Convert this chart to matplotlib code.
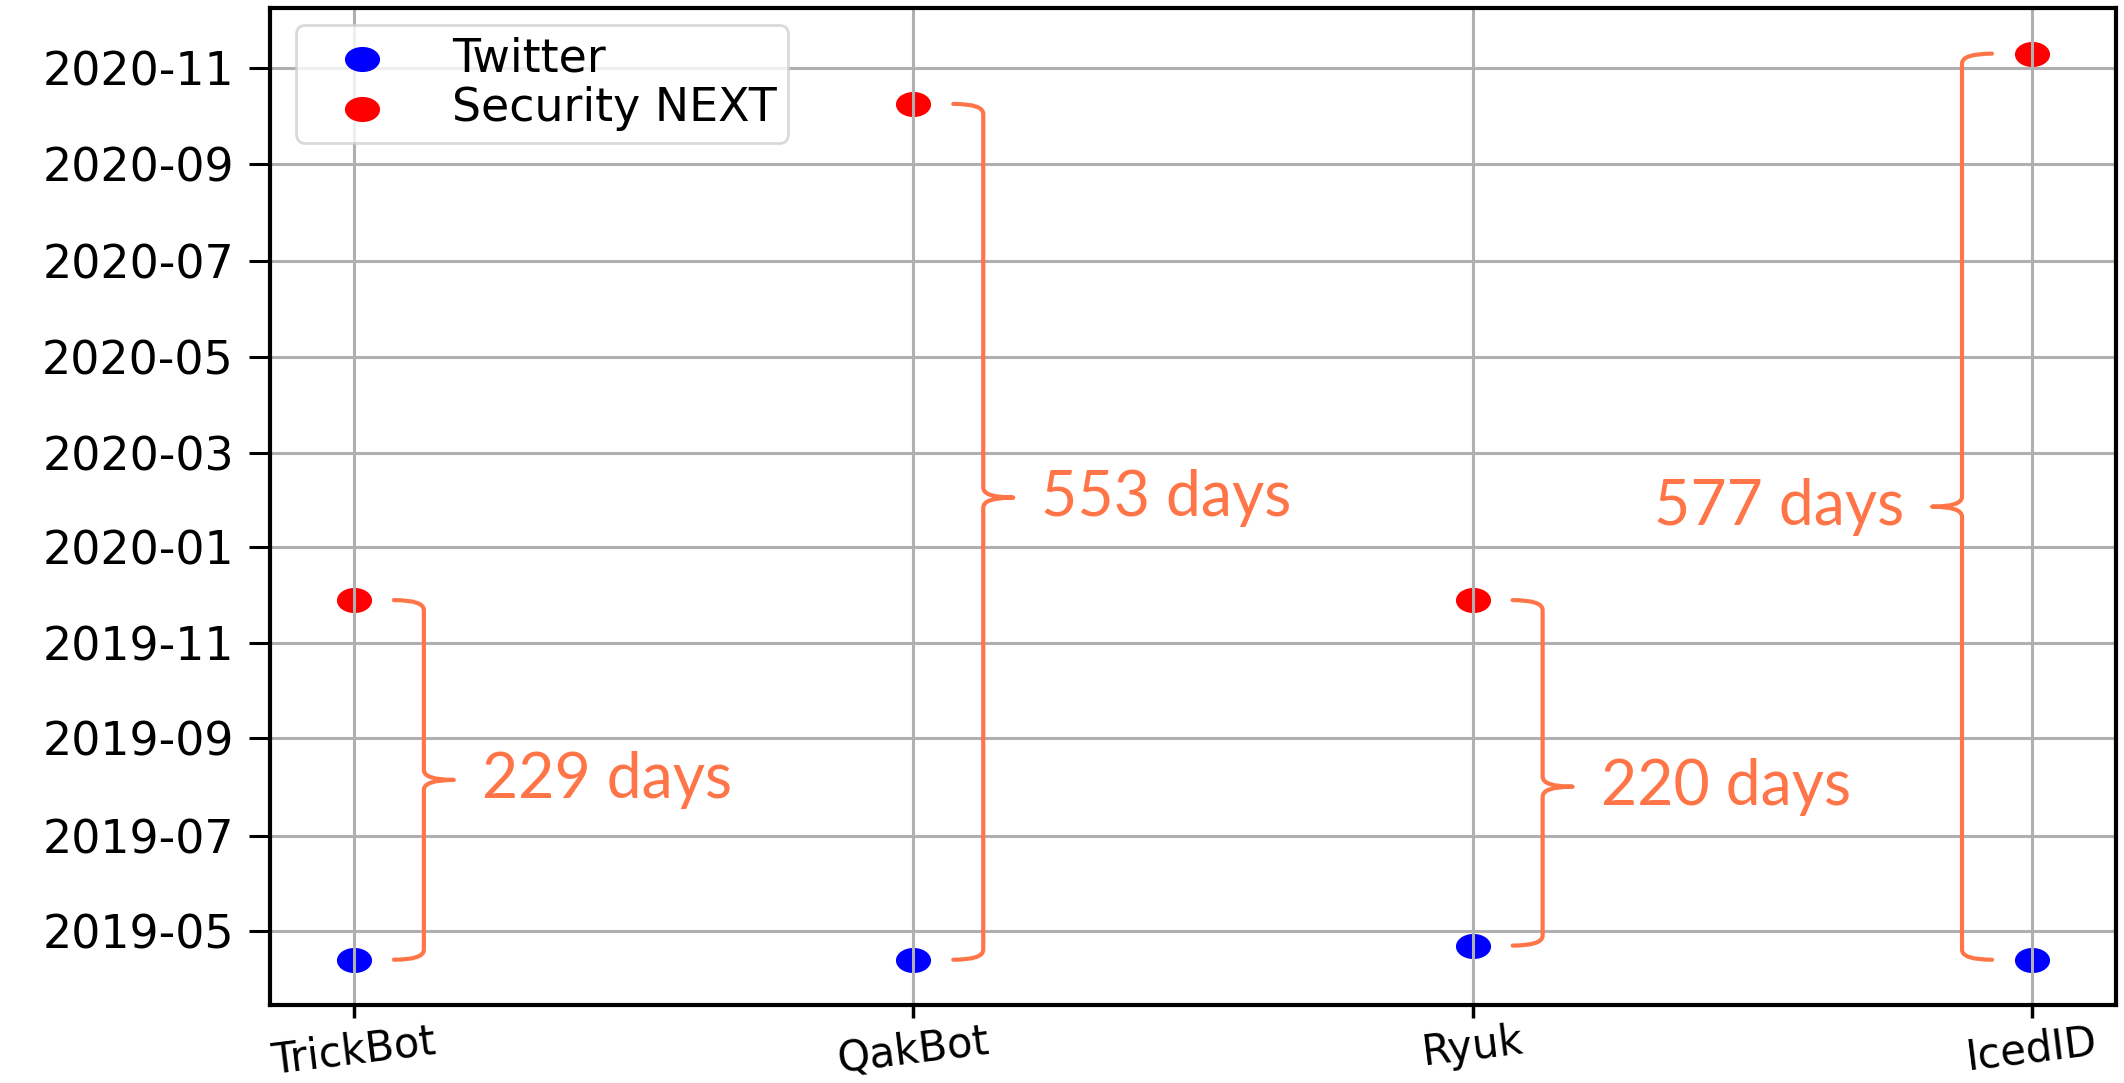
import matplotlib
matplotlib.use('Agg')
import matplotlib.pyplot as plt
import matplotlib.dates as mdates
from matplotlib.path import Path
from matplotlib.patches import PathPatch
import numpy as np

# Datos
malware = ['TrickBot', 'QakBot', 'Ryuk', 'IcedID']
twitter_dates = np.array(['2019-04-13', '2019-04-13', '2019-04-22', '2019-04-13'], dtype='datetime64[D]')
secnext_dates = np.array(['2019-11-28', '2020-10-09', '2019-11-28', '2020-11-10'], dtype='datetime64[D]')
gap_labels = ['229 days', '553 days', '220 days', '577 days']

# Estilo de las llaves: lado y posicion relativa de la punta (desde arriba)
brace_side = ['right', 'right', 'right', 'left']
notch_frac = [0.5, 0.46, 0.54, 0.5]
brace_color = '#ff7548'

# Marcador eliptico (el original esta estirado en horizontal)
circle = Path.unit_circle()
ellipse = Path(circle.vertices * np.array([1.4, 1.0]), circle.codes)


def to_obj(d):
    return d.astype('datetime64[ms]').astype(object)


fig = plt.figure(figsize=(21.24, 10.83), dpi=100)
ax = fig.add_axes([0.1271, 0.0720, 0.8691, 0.9203])

ax.scatter(malware, to_obj(twitter_dates), s=640, marker=ellipse,
           color='blue', linewidths=0, label='Twitter')
ax.scatter(malware, to_obj(secnext_dates), s=640, marker=ellipse,
           color='red', linewidths=0, label='Security NEXT')

ax.yaxis.set_major_locator(mdates.MonthLocator(bymonth=[1, 3, 5, 7, 9, 11]))
ax.yaxis.set_major_formatter(mdates.DateFormatter('%Y-%m'))
ax.grid(True, color='#b0b0b0', linewidth=2.2)

for sp in ax.spines.values():
    sp.set_linewidth(3)
ax.tick_params(axis='y', labelsize=33, length=15, width=2.2, pad=11)
ax.tick_params(axis='x', labelsize=30, length=9, width=2.5, pad=2)
for lbl in ax.get_xticklabels():
    lbl.set_rotation(7)
    lbl.set_ha('center')

leg = ax.legend(loc='upper left', bbox_to_anchor=(296 / 2124, 1 - 25 / 1083),
                bbox_transform=fig.transFigure, borderaxespad=0, fontsize=33,
                borderpad=0.25, labelspacing=0.1, handlelength=2.4, handletextpad=0.75,
                framealpha=0.8, edgecolor='#d0d0d0')
leg.get_frame().set_linewidth(2)

# Conversion pixel -> datos para dibujar las llaves
fig.canvas.draw()
xlim = ax.get_xlim()
ylim = ax.get_ylim()
bbox = ax.get_window_extent()
xpp = (xlim[1] - xlim[0]) / bbox.width
ypp = (ylim[1] - ylim[0]) / bbox.height


def brace(ax, x, y_top, y_bot, side, frac):
    s = 1 if side == 'right' else -1
    x0 = x + s * 40 * xpp
    xv = x + s * 70 * xpp
    xt = x + s * 100 * xpp
    r = 10 * ypp
    ym = y_top - frac * (y_top - y_bot)
    verts = [(x0, y_top), (xv, y_top), (xv, y_top - r),
             (xv, ym + r),
             (xv, ym), (xt, ym),
             (xv, ym), (xv, ym - r),
             (xv, y_bot + r),
             (xv, y_bot), (x0, y_bot)]
    codes = [Path.MOVETO, Path.CURVE3, Path.CURVE3,
             Path.LINETO,
             Path.CURVE3, Path.CURVE3,
             Path.CURVE3, Path.CURVE3,
             Path.LINETO,
             Path.CURVE3, Path.CURVE3]
    ax.add_patch(PathPatch(Path(verts, codes), facecolor='none', edgecolor=brace_color,
                           linewidth=3, capstyle='round', joinstyle='round', zorder=4))
    return x + s * 128 * xpp, ym


for i in range(len(malware)):
    y_top = mdates.date2num(to_obj(secnext_dates[i]))
    y_bot = mdates.date2num(to_obj(twitter_dates[i]))
    tx, ty = brace(ax, i, y_top, y_bot, brace_side[i], notch_frac[i])
    ax.text(tx, ty, gap_labels[i], color=brace_color, fontsize=45,
            family=['Lato', 'DejaVu Sans'],
            ha='left' if brace_side[i] == 'right' else 'right', va='center', zorder=5)

ax.set_xlim(xlim)
ax.set_ylim(ylim)

fig.savefig('out.png', dpi=100)
